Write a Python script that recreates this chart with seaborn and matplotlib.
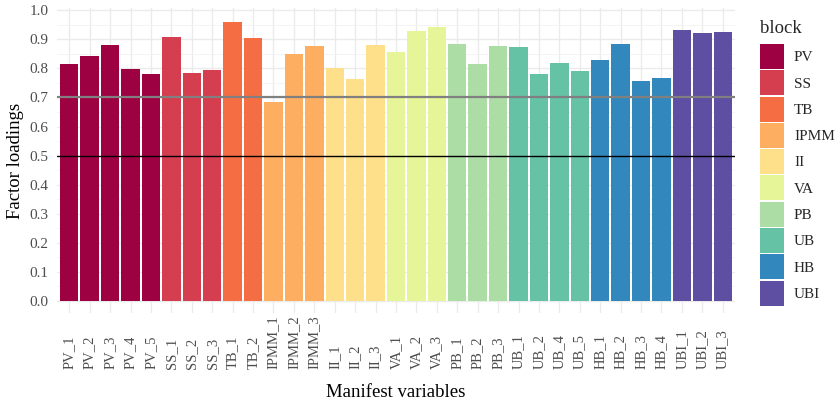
import numpy as np
import pandas as pd
import seaborn as sns
import matplotlib.pyplot as plt
from matplotlib.patches import Patch

variables = ["PV_1", "PV_2", "PV_3", "PV_4", "PV_5",
             "SS_1", "SS_2", "SS_3",
             "TB_1", "TB_2",
             "IPMM_1", "IPMM_2", "IPMM_3",
             "II_1", "II_2", "II_3",
             "VA_1", "VA_2", "VA_3",
             "PB_1", "PB_2", "PB_3",
             "UB_1", "UB_2", "UB_4", "UB_5",
             "HB_1", "HB_2", "HB_3", "HB_4",
             "UBI_1", "UBI_2", "UBI_3"]
loadings = [0.816, 0.843, 0.881, 0.799, 0.781,
            0.909, 0.785, 0.795,
            0.960, 0.905,
            0.685, 0.850, 0.878,
            0.802, 0.764, 0.881,
            0.857, 0.929, 0.943,
            0.885, 0.816, 0.878,
            0.874, 0.781, 0.819, 0.792,
            0.830, 0.885, 0.757, 0.768,
            0.933, 0.923, 0.926]
blocks = ["PV"] * 5 + ["SS"] * 3 + ["TB"] * 2 + ["IPMM"] * 3 + ["II"] * 3 + \
         ["VA"] * 3 + ["PB"] * 3 + ["UB"] * 4 + ["HB"] * 4 + ["UBI"] * 3
block_order = ["PV", "SS", "TB", "IPMM", "II", "VA", "PB", "UB", "HB", "UBI"]
block_colors = ["#9E0142", "#D53E4F", "#F46D43", "#FDAE61", "#FEE08B",
                "#E6F598", "#ABDDA4", "#66C2A5", "#3288BD", "#5E4FA2"]
y_ticks = [0.0, 0.1, 0.2, 0.3, 0.4, 0.5, 0.6, 0.7, 0.8, 0.9, 1.0]

sns.set_theme(style="white")
plt.rcParams['font.family'] = ['Liberation Serif', 'DejaVu Serif']

df = pd.DataFrame({"variable": variables, "loading": loadings, "block": blocks})

fig = plt.figure(figsize=(8.39, 4.04), dpi=100)
ax = fig.add_axes([57 / 839, 91 / 404, 678 / 839, 305 / 404])

sns.barplot(data=df, x="variable", y="loading", hue="block", hue_order=block_order,
            palette=block_colors, dodge=False, width=0.9, saturation=1,
            ax=ax, legend=False, zorder=2, edgecolor="none")

ax.axhline(0.7, color="#808080", lw=1.6, zorder=3)
ax.axhline(0.5, color="black", lw=1.0, zorder=3)

n = len(variables)
ax.set_xlim(-0.6, n - 0.4)
ax.set_ylim(-0.042, 1.008)
ax.set_yticks(y_ticks)
ax.set_yticklabels([f"{v:.1f}" for v in y_ticks])
ax.set_yticks(np.arange(0.05, 1.0, 0.1), minor=True)
ax.set_axisbelow(True)
ax.grid(which="major", color="#EBEBEB", lw=1.0)
ax.grid(which="minor", axis="y", color="#F2F2F2", lw=0.6)
for s in ax.spines.values():
    s.set_visible(False)

ax.tick_params(axis="both", length=0, colors="#4D4D4D", labelsize=10.5)
ax.tick_params(axis="y", pad=6, labelsize=11)
ax.set_xticks(range(n))
ax.set_xticklabels(variables, rotation=90)
ax.tick_params(axis="x", pad=40)
for lab in ax.get_xticklabels():
    lab.set_verticalalignment("bottom")

ax.set_xlabel("Manifest variables", fontsize=13.5, color="black", labelpad=11)
ax.set_ylabel("Factor loadings", fontsize=13.5, color="black", labelpad=4)

handles = [Patch(facecolor=c, edgecolor="none") for c in block_colors]
lfs = 11
fs = lfs * 100 / 72
hh = (25 / fs - 0.245) / 0.65
leg = fig.legend(handles, block_order, title="block", loc="upper left",
                 bbox_to_anchor=(760 / 839, 1 - 20 / 404), frameon=False,
                 fontsize=lfs, title_fontsize=13.5,
                 handlelength=24 / fs, handleheight=hh,
                 labelspacing=1.3 / fs, handletextpad=10 / fs,
                 borderpad=0, borderaxespad=0, alignment="left")
leg._legend_box.sep = 5

fig.savefig("out.png", dpi=100)
